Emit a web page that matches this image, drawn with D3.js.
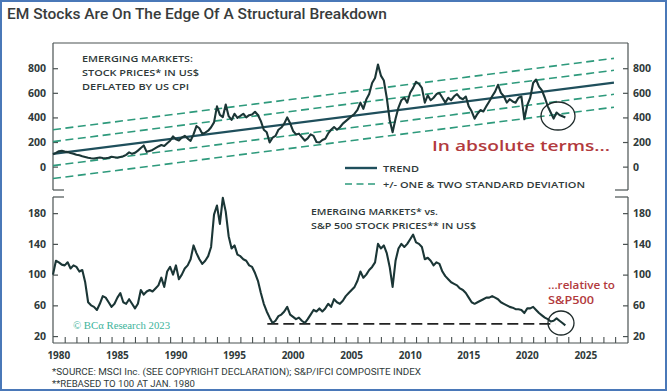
<!DOCTYPE html>
<html><head><meta charset="utf-8">
<script src="https://cdn.jsdelivr.net/npm/d3@7"></script>
<style>body{margin:0;background:#fff;} svg{display:block;}</style>
</head><body>
<svg id="chart" width="669" height="392"></svg>
<script>
// ---------- DATA ----------
const chartTitle = "EM Stocks Are On The Edge Of A Structural Breakdown";
const startYear = 1980;          // quarterly observations, first = Q1 1980
const obsPerYear = 4;
// EM stock prices in US$ deflated by US CPI (quarterly)
const emReal = [
  100,112,125,128, 122,118,110,104, 96,92,84,78, 72,68,66,70, 74,70,68,72,
  80,76,72,78, 84,96,116,104, 112,130,152,172, 120,128,136,150, 164,176,168,190,
  210,246,222,212, 236,250,228,210, 262,330,312,268, 276,292,320,360, 490,420,402,505,
  410,380,430,396, 412,430,400,418, 424,446,420,370, 300,280,196,236, 250,300,318,350,
  400,352,290,262, 268,240,212,230, 262,250,200,196, 216,226,270,300, 322,300,320,350,
  370,390,410,430, 462,520,470,545, 590,680,720,830, 740,700,560,380, 280,390,480,540,
  560,520,600,640, 690,672,640,520, 580,540,560,590, 598,560,520,560, 540,572,590,560,
  548,570,490,450, 390,430,460,448, 490,530,572,610, 665,600,572,520, 548,530,520,560,
  570,385,500,560, 680,708,650,620, 560,490,440,390, 440,420,410,400
];
// EM vs S&P 500 stock prices in US$, rebased to 100 at Jan 1980 (quarterly)
const emRelative = [
  100,118,116,113, 112,116,108,112, 110,104,106,90, 64,60,58,54, 62,72,70,64,
  58,62,70,76, 64,62,68,62, 56,62,80,74, 78,80,78,82, 86,96,84,104,
  110,100,112,94, 100,108,112,120, 138,128,120,114, 118,124,136,178, 190,166,200,182,
  150,134,138,126, 124,120,118,112, 110,102,92,76, 62,52,44,37, 40,46,48,52,
  58,48,45,42, 44,40,37,42, 48,54,52,56, 52,56,62,58, 68,64,62,66,
  72,76,80,84, 92,104,96,100, 106,110,116,140, 134,138,128,110, 84,118,134,140,
  136,140,146,152, 142,140,136,120, 122,118,112,116, 114,104,98,94, 90,88,86,82,
  80,76,70,64, 62,64,66,68, 70,70,72,70, 68,64,62,60, 58,57,55,55,
  54,50,56,56, 58,54,50,47, 44,42,39,40, 43,40,37,34
];
// Trend line (start / end) and standard-deviation band offsets
const trendYears = [1980, 2027.9];
const trendValues = [103, 683];
const sdOffsets = [197, 100, -95, -200];
// Support line on the relative chart
const supportYears = [1998.3, 2022.9];
const supportValue = 36;
// Tick labels
const topTicks = [0, 200, 400, 600, 800];
const bottomTicks = [20, 60, 100, 140, 180];
const yearLabels = [1980, 1985, 1990, 1995, 2000, 2005, 2010, 2015, 2020, 2025];
const topLabel = ["EMERGING MARKETS:", "STOCK PRICES* IN US$", "DEFLATED BY US CPI"];
const bottomLabel = ["EMERGING MARKETS* vs.", "S&P 500 STOCK PRICES** IN US$"];
const legendLabels = ["TREND", "+/- ONE & TWO STANDARD DEVIATION"];
const footnotes = ["*SOURCE: MSCI Inc. (SEE COPYRIGHT DECLARATION); S&P/IFCI COMPOSITE INDEX",
                   "**REBASED TO 100 AT JAN. 1980"];

// ---------- LAYOUT ----------
const svg = d3.select("#chart");
const L = 53, R = 628;
const topP = {y0: 43, y1: 190};
const botP = {y0: 197, y1: 343};
const ink = "#2f3a3a", frame = "#4a5252", lineCol = "#1b3636",
      trendCol = "#1f4f5c", bandCol = "#2e9a7c", red = "#b23a3d";
const labelFont = "'Open Sans', sans-serif";
// rendered widths of the wide display font used in the original
const W = {top: [111, 117, 107], legend: [36, 202], bottom: [127, 165],
           abs: 178, rel: 67, sp: 46, foot: [369, 143], bca: 97};

const x = d3.scaleLinear().domain([1980, 2029.1]).range([L, R]);
const yTop = d3.scaleLinear().domain([-190, 1005]).range([topP.y1, topP.y0]);
const yBot = d3.scaleLinear().domain([11, 201]).range([botP.y1, botP.y0]);
const t = i => startYear + i / obsPerYear;
const fit = (sel, w) => sel.attr("textLength", w).attr("lengthAdjust", "spacingAndGlyphs");

// outer border
svg.append("rect").attr("x",1).attr("y",1).attr("width",665).attr("height",389)
  .attr("fill","none").attr("stroke","#4a78b8").attr("stroke-width",2);

// title
svg.append("text").attr("x",7).attr("y",19).text(chartTitle)
  .attr("font-family","Roboto, sans-serif").attr("font-size",15.5).attr("font-weight",500)
  .attr("fill","#383c3c");

// frames
const fr = svg.append("g").attr("stroke",frame).attr("stroke-width",1.2).attr("fill","none");
const seg = (a,b,c,d) => fr.append("line").attr("x1",a).attr("y1",b).attr("x2",c).attr("y2",d);
seg(L,topP.y0,R,topP.y0); seg(L,topP.y0,L,topP.y1); seg(R,topP.y0,R,topP.y1);
seg(L,topP.y1,L+11,topP.y1); seg(R-13,topP.y1,R,topP.y1);
seg(L,botP.y0,L+11,botP.y0); seg(R-13,botP.y0,R,botP.y0);
seg(L,botP.y0,L,botP.y1); seg(R,botP.y0,R,botP.y1); seg(L,botP.y1,R,botP.y1);

// y axes
function yAxes(scale, ticks) {
  const gl = svg.append("g").attr("transform",`translate(${L},0)`)
    .call(d3.axisLeft(scale).tickValues(ticks).tickSize(-5).tickPadding(7));
  const gr = svg.append("g").attr("transform",`translate(${R},0)`)
    .call(d3.axisRight(scale).tickValues(ticks).tickSize(-5).tickPadding(5));
  [gl, gr].forEach(g => {
    g.select(".domain").remove();
    g.selectAll("line").attr("stroke",frame).attr("stroke-width",1.2);
    g.selectAll("text").attr("font-family",labelFont).attr("font-weight",700)
      .attr("font-size",10.5).attr("fill",ink);
  });
}
yAxes(yTop, topTicks);
yAxes(yBot, bottomTicks);

// x axis ticks (each year, pointing up) and labels
svg.append("g").attr("transform",`translate(0,${botP.y1})`)
  .call(d3.axisBottom(x).tickValues(d3.range(1981, 2029)).tickSize(-6).tickFormat(""))
  .call(g => { g.select(".domain").remove(); g.selectAll("line").attr("stroke",frame).attr("stroke-width",1.1); });
svg.append("g").selectAll("text").data(yearLabels).join("text")
  .attr("x", d => x(d + 0.5)).attr("y", 359).attr("text-anchor","middle").text(d => d)
  .attr("font-family",labelFont).attr("font-weight",700).attr("font-size",10).attr("fill",ink);

// ---------- TOP PANEL ----------
const bands = svg.append("g");
sdOffsets.forEach(o => {
  bands.append("line")
    .attr("x1", x(trendYears[0])).attr("y1", yTop(trendValues[0] + o))
    .attr("x2", x(trendYears[1])).attr("y2", yTop(trendValues[1] + o))
    .attr("stroke", bandCol).attr("stroke-width",1.6).attr("stroke-dasharray","8,4.5");
});
svg.append("line")
  .attr("x1", x(trendYears[0])).attr("y1", yTop(trendValues[0]))
  .attr("x2", x(trendYears[1])).attr("y2", yTop(trendValues[1]))
  .attr("stroke", trendCol).attr("stroke-width",2.2);

const lineTop = d3.line().x((d,i) => x(t(i))).y(d => yTop(d));
svg.append("path").datum(emReal).attr("d", lineTop)
  .attr("fill","none").attr("stroke",lineCol).attr("stroke-width",2.1).attr("stroke-linejoin","round");

// label
svg.append("g").selectAll("text").data(topLabel).join("text")
  .attr("x",82).attr("y",(d,i) => 61.5 + i*14).text(d => d)
  .attr("font-family",labelFont).attr("font-weight",600).attr("font-size",9.5).attr("fill",ink)
  .each(function(d,i){ fit(d3.select(this), W.top[i]); });

// circle
svg.append("ellipse").attr("cx",558).attr("cy",116).attr("rx",17).attr("ry",14)
  .attr("fill","none").attr("stroke","#1e2a2a").attr("stroke-width",1.3);
fit(svg.append("text").attr("x",432).attr("y",150.5).text("In absolute terms...")
  .attr("font-family",labelFont).attr("font-weight",600).attr("font-size",13.5).attr("fill",red), W.abs);

// legend
svg.append("line").attr("x1",345).attr("x2",377).attr("y1",168).attr("y2",168)
  .attr("stroke",trendCol).attr("stroke-width",2.4);
svg.append("line").attr("x1",345).attr("x2",377).attr("y1",184).attr("y2",184)
  .attr("stroke",bandCol).attr("stroke-width",1.6).attr("stroke-dasharray","7,4.5");
svg.append("g").selectAll("text").data(legendLabels).join("text")
  .attr("x",383).attr("y",(d,i) => 171.5 + i*16).text(d => d)
  .attr("font-family",labelFont).attr("font-weight",600).attr("font-size",9.5).attr("fill",ink)
  .each(function(d,i){ fit(d3.select(this), W.legend[i]); });

// ---------- BOTTOM PANEL ----------
svg.append("line")
  .attr("x1", x(supportYears[0])).attr("x2", x(supportYears[1]))
  .attr("y1", yBot(supportValue)).attr("y2", yBot(supportValue))
  .attr("stroke","#222").attr("stroke-width",1.8).attr("stroke-dasharray","11,5");
const lineBot = d3.line().x((d,i) => x(t(i))).y(d => yBot(d));
svg.append("path").datum(emRelative).attr("d", lineBot)
  .attr("fill","none").attr("stroke",lineCol).attr("stroke-width",2.1).attr("stroke-linejoin","round");

svg.append("g").selectAll("text").data(bottomLabel).join("text")
  .attr("x",311).attr("y",(d,i) => 215 + i*14).text(d => d)
  .attr("font-family",labelFont).attr("font-weight",600).attr("font-size",9.5).attr("fill",ink)
  .each(function(d,i){ fit(d3.select(this), W.bottom[i]); });

svg.append("ellipse").attr("cx",561).attr("cy",323).attr("rx",13).attr("ry",12)
  .attr("fill","none").attr("stroke","#1e2a2a").attr("stroke-width",1.3);
fit(svg.append("text").attr("x",548).attr("y",288.5).text("...relative to")
  .attr("font-family",labelFont).attr("font-weight",600).attr("font-size",11.5).attr("fill",red), W.rel);
fit(svg.append("text").attr("x",548).attr("y",303.5).text("S&P500")
  .attr("font-family",labelFont).attr("font-weight",600).attr("font-size",11.5).attr("fill",red), W.sp);

fit(svg.append("text").attr("x",73).attr("y",329).text("© BCα Research 2023")
  .attr("font-family","'Liberation Serif', serif").attr("font-size",11).attr("fill","#3cb39a"), W.bca);

// footnotes
svg.append("g").selectAll("text").data(footnotes).join("text")
  .attr("x",52).attr("y",(d,i) => 374.5 + i*12).text(d => d)
  .attr("font-family","Roboto, sans-serif").attr("font-size",9.5).attr("fill",ink)
  .each(function(d,i){ fit(d3.select(this), W.foot[i]); });
</script>
</body></html>
